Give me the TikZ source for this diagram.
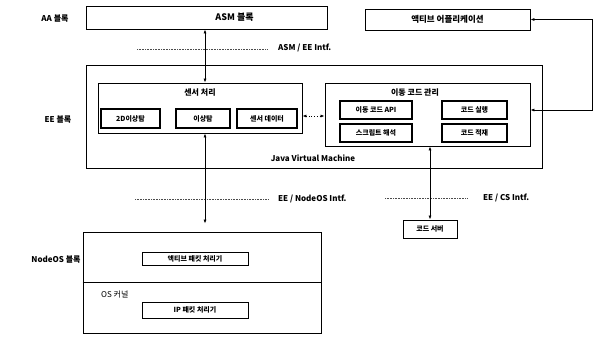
\documentclass[tikz,border=0pt]{standalone}
\usepackage{fontspec}
\setmainfont{Noto Sans CJK KR}
\usetikzlibrary{arrows.meta}
\tikzset{
  frame/.style={draw=black, line width=0.8pt, inner sep=0pt},
  subbox/.style={draw=black, line width=1.2pt, inner sep=0pt, font=\fontsize{7}{8}\selectfont\bfseries},
  title/.style={font=\fontsize{8}{9}\selectfont\bfseries, inner sep=1pt},
  lbl/.style={font=\fontsize{8}{9}\selectfont\bfseries, inner sep=1pt},
  intf/.style={font=\fontsize{8}{9}\selectfont\bfseries, anchor=west, inner sep=1pt},
  wavy/.style={draw=black!70, line width=0.6pt, densely dotted},
  conn/.style={line width=0.7pt, {Latex[length=4pt,width=3pt]}-{Latex[length=4pt,width=3pt]}},
}
\begin{document}
\begin{tikzpicture}[x=1pt,y=-1pt]
\useasboundingbox[fill=white] (0,0) rectangle (600,341);
% labels on left
\node[lbl] (aa) at (55,19) {AA 블록};
\node[lbl] (ee) at (58,120) {EE 블록};
\node[lbl] (nos) at (56,260) {NodeOS 블록};
% AA level
\node[frame, minimum width=241pt, minimum height=23pt, font=\fontsize{9}{10}\selectfont\bfseries] (asm) at (206.5,17.5) {\hspace*{56pt}ASM 블록};
\node[frame, minimum width=165pt, minimum height=21pt, font=\fontsize{8.5}{9}\selectfont\bfseries] (app) at (447.5,19.5) {액티브 어플리케이션};
% EE block
\node[frame, minimum width=456pt, minimum height=103pt] (eebox) at (314,116.5) {};
\node[frame, minimum width=204pt, minimum height=50pt] (sensor) at (200,108) {};
\node[title] (sensorT) at (200,93) {센서 처리};
\node[subbox, minimum width=59pt, minimum height=19pt] (s1) at (130.5,118.5) {2D이상탐};
\node[subbox, minimum width=54pt, minimum height=19pt] (s2) at (203,118.5) {이상탐};
\node[subbox, minimum width=60pt, minimum height=19pt] (s3) at (267,118.5) {센서 데이터};
\node[frame, minimum width=205pt, minimum height=63pt] (mobile) at (427.5,114.5) {};
\node[title] (mobileT) at (415,93) {이동 코드 관리};
\node[subbox, minimum width=72pt, minimum height=18pt] (m1) at (376,110) {이동 코드 API};
\node[subbox, minimum width=65pt, minimum height=18pt] (m2) at (474.5,110) {코드 실행};
\node[subbox, minimum width=72pt, minimum height=18pt] (m3) at (376,133) {스크립트 해석};
\node[subbox, minimum width=65pt, minimum height=18pt] (m4) at (474.5,133) {코드 적재};
\node[lbl] (jvm) at (313,158) {Java Virtual Machine};
% NodeOS block
\node[frame, minimum width=238pt, minimum height=101pt] (nodeos) at (202,282.5) {};
\coordinate (divy) at (0,282);
\draw[line width=0.8pt] (nodeos.west |- divy) -- (nodeos.east |- divy);
\node[subbox, line width=1pt, minimum width=106pt, minimum height=13pt] (apkt) at (195,258.5) {액티브 패킷 처리기};
\node[lbl, anchor=west, font=\fontsize{8}{9}\selectfont] (oskern) at (100,294) {OS 커널};
\node[subbox, line width=1pt, minimum width=106pt, minimum height=16pt] (ippkt) at (195,310) {IP 패킷 처리기};
% code server
\node[subbox, line width=1pt, minimum width=54pt, minimum height=18pt] (csrv) at (430,229) {코드 서버};
% interface lines
\coordinate (w1a) at (137,49); \coordinate (w1b) at (267,49);
\draw[wavy] (w1a) -- (w1b);
\node[intf] (asmee) at (277,48) {ASM / EE Intf.};
\coordinate (w2a) at (135,199); \coordinate (w2b) at (268,199);
\draw[wavy] (w2a) -- (w2b);
\node[intf] (eenos) at (277,199) {EE / NodeOS Intf.};
\coordinate (w3a) at (385,198); \coordinate (w3b) at (468,198);
\draw[wavy] (w3a) -- (w3b);
\node[intf] (eecs) at (482,198) {EE / CS Intf.};
% connectors
\draw[conn] ([xshift=5pt]sensor.north |- asm.south) -- ([xshift=5pt]sensor.north);
\draw[conn, shorten >=8pt] ([xshift=5pt]sensor.south) -- ([xshift=5pt]sensor.south |- nodeos.north);
\draw[conn] (csrv.north |- mobile.south) -- (csrv.north);
\draw[conn, dotted] (sensor.east |- 0,116) -- (mobile.west |- 0,116);
\coordinate (rtop) at (592,0);
\draw[conn] (app.east) -- (app.east -| rtop) -- (rtop |- m1.east) -- (mobile.east |- m1.east);
\end{tikzpicture}
\end{document}
